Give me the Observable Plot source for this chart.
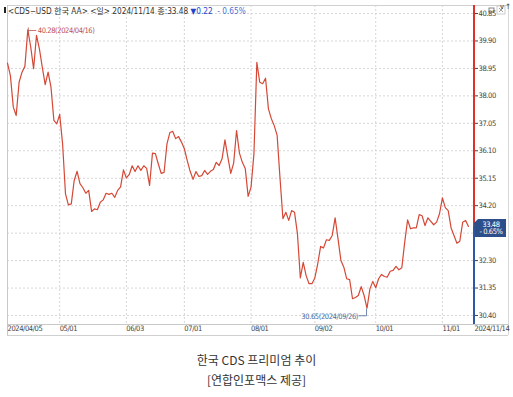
<!DOCTYPE html>
<html><head><meta charset="utf-8">
<script src="https://cdn.jsdelivr.net/npm/d3@7"></script>
<script src="https://cdn.jsdelivr.net/npm/@observablehq/plot@0.6"></script>
<style>
body{margin:0;background:#fff;}
#chart svg{display:block;}
#chart svg text{letter-spacing:-0.4px;}
#chart svg text.hdr{letter-spacing:0px;}
.cap{font-family:"Noto Sans CJK KR","Noto Sans",sans-serif;font-size:12px;color:#333;text-align:center;line-height:20px;margin-top:10px;width:513px;}
</style></head><body>
<div id="chart"></div>
<div class="cap">한국 CDS 프리미엄 추이<br>[연합인포맥스 제공]</div>
<script>
const dates = [
"04/05","04/08","04/09","04/10","04/11","04/12","04/15","04/16","04/17","04/18",
"04/19","04/22","04/23","04/24","04/25","04/26","04/29","04/30","05/01","05/02",
"05/03","05/06","05/07","05/08","05/09","05/10","05/13","05/14","05/15","05/16",
"05/17","05/20","05/21","05/22","05/23","05/24","05/27","05/28","05/29","05/30",
"05/31","06/03","06/04","06/05","06/06","06/07","06/10","06/11","06/12","06/13",
"06/14","06/17","06/18","06/19","06/20","06/21","06/24","06/25","06/26","06/27",
"06/28","07/01","07/02","07/03","07/04","07/05","07/08","07/09","07/10","07/11",
"07/12","07/15","07/16","07/17","07/18","07/19","07/22","07/23","07/24","07/25",
"07/26","07/29","07/30","07/31","08/01","08/02","08/05","08/06","08/07","08/08",
"08/09","08/12","08/13","08/14","08/15","08/16","08/19","08/20","08/21","08/22",
"08/23","08/26","08/27","08/28","08/29","08/30","09/02","09/03","09/04","09/05",
"09/06","09/09","09/10","09/11","09/12","09/13","09/16","09/17","09/18","09/19",
"09/20","09/23","09/24","09/25","09/26","09/27","09/30","10/01","10/02","10/03",
"10/04","10/07","10/08","10/09","10/10","10/11","10/14","10/15","10/16","10/17",
"10/18","10/21","10/22","10/23","10/24","10/25","10/28","10/29","10/30","10/31",
"11/01","11/04","11/05","11/06","11/07","11/08","11/11","11/12","11/13","11/14"];

const values = [
39.13,38.70,37.61,37.32,38.47,38.82,39.02,40.28,39.70,38.94,
40.09,39.63,38.99,38.39,38.82,38.30,37.15,37.03,37.36,36.34,
34.61,34.23,34.26,35.07,35.39,34.96,34.82,34.63,34.73,34.00,
34.09,34.06,34.32,34.40,34.63,34.59,34.63,34.49,34.73,34.85,
35.44,35.16,35.28,35.58,35.38,35.58,35.42,35.58,35.49,34.90,
36.02,36.00,35.65,35.32,35.35,36.34,36.73,36.77,36.52,36.59,
36.40,36.17,35.76,35.39,35.11,35.38,35.21,35.24,35.42,35.28,
35.39,35.45,35.70,35.59,35.82,36.48,35.88,35.32,35.67,36.80,
36.02,35.70,35.49,34.52,34.84,36.00,39.16,38.47,38.42,38.61,
37.55,37.21,36.97,36.63,35.14,33.75,33.97,33.69,34.03,33.97,
33.23,31.70,32.24,31.78,31.50,31.50,31.70,32.19,32.79,32.74,
33.02,33.00,33.17,33.78,33.05,32.30,32.07,31.67,31.64,30.98,
31.02,31.09,31.40,31.09,30.65,31.32,31.58,31.36,31.67,31.82,
31.75,31.73,31.93,31.96,32.10,31.98,32.05,32.94,33.71,33.40,
33.43,33.43,33.89,33.85,33.51,33.78,33.66,33.54,33.63,33.92,
34.47,34.13,34.03,33.43,33.17,32.90,32.97,33.63,33.69,33.48];

const yTicks = [30.40,31.35,32.30,33.25,34.20,35.15,36.10,37.05,38.00,38.95,39.90,40.85];
const monthTicks = ["05/01","06/03","07/01","08/01","09/02","10/01","11/01"];
const firstLabel = "2024/04/05";
const lastLabel = "2024/11/14";
const maxDate = "04/16", maxText = "40.28(2024/04/16)";
const minDate = "09/26", minText = "30.65(2024/09/26)";
const headerMain = "<CDS\u2212USD 한국 AA> <일> 2024/11/14 종:33.48 ";
const headerChg = "\u25BC0.22";
const headerPct = "  - 0.65%";
const boxValue = "33.48";
const boxPct = "- 0.65%";

const data = dates.map((d, i) => ({i, date: d, v: values[i]}));
const n = dates.length;
const xMax = (n - 1) + 2.07;
const yDomain = [30.088, 41.127];
const lastV = values[n - 1];
const monthData = monthTicks.map(m => ({i: dates.indexOf(m), label: m}));
const edgeData = [{i: 0, label: firstLabel}, {i: xMax, label: lastLabel}];
const maxPt = data[dates.indexOf(maxDate)];
const minPt = data[dates.indexOf(minDate)];

const FONT = '"Liberation Sans Narrow","Arial Narrow","DejaVu Sans Condensed","Noto Sans CJK KR",sans-serif';
const RED = "#d54836", BLUE = "#2f57a6";

const chrome = (index, scales, values, dim) => {
  const g = d3.create("svg:g");
  const L = dim.marginLeft, T = dim.marginTop, R = dim.width - dim.marginRight, B = dim.height - dim.marginBottom;
  const W = dim.width - 5;
  const line = (x1, y1, x2, y2, c) => g.append("line").attr("x1", x1).attr("y1", y1).attr("x2", x2).attr("y2", y2).attr("stroke", c).attr("stroke-width", 1).attr("shape-rendering", "crispEdges");
  line(L, T, W, T, "#d0d0d0");
  line(L, T, L, B + 11, "#c8c8c8");
  line(L, B, W, B, "#c8c8c8");
  line(L, B + 11, W, B + 11, "#d0d0d0");
  line(W, T, W, B + 11, "#d8d8d8");
  const yv = scales.y(lastV);
  g.append("line").attr("x1", R).attr("x2", R).attr("y1", T).attr("y2", yv).attr("stroke", "#e0302a").attr("stroke-width", 2);
  g.append("line").attr("x1", R).attr("x2", R).attr("y1", yv).attr("y2", B).attr("stroke", BLUE).attr("stroke-width", 2);
  g.append("rect").attr("x", R + 15).attr("y", T + 3).attr("width", 5).attr("height", 4).attr("fill", "none").attr("stroke", "#666").attr("stroke-width", 0.8);
  g.append("rect").attr("x", R + 23).attr("y", T + 1).attr("width", 8).attr("height", 8).attr("fill", "#fff").attr("stroke", "#c0c0c0").attr("stroke-width", 0.8);
  g.append("path").attr("d", `M${R+25},${T+3}L${R+29},${T+7}M${R+29},${T+3}L${R+25},${T+7}`).attr("stroke", "#888").attr("stroke-width", 0.8);
  return g.node();
};

const valueBox = (index, scales, values, dim) => {
  const g = d3.create("svg:g");
  const R = dim.width - dim.marginRight;
  const yv = scales.y(lastV);
  g.append("path").attr("d", `M${R},${yv - 3}L${R + 4},${yv - 7}L${R + 32},${yv - 7}L${R + 32},${yv + 11}L${R + 1},${yv + 11}Z`).attr("fill", "#2c4f8c");
  g.append("text").attr("x", R + 17).attr("y", yv - 1.5).attr("text-anchor", "middle").attr("dominant-baseline", "middle").attr("fill", "#fff").attr("font-size", 7.5).text(boxValue);
  g.append("text").attr("x", R + 17).attr("y", yv + 6).attr("text-anchor", "middle").attr("dominant-baseline", "middle").attr("fill", "#fff").attr("font-size", 7.5).text(boxPct);
  return g.node();
};

const header = (index, scales, values, dim) => {
  const g = d3.create("svg:g");
  const T = dim.marginTop;
  g.append("rect").attr("x", 4).attr("y", T + 2).attr("width", 2).attr("height", 6).attr("fill", "#222");
  const t = g.append("text").attr("class", "hdr").attr("x", 8).attr("y", T + 5.5).attr("text-anchor", "start").attr("dominant-baseline", "middle").attr("font-size", 8.2);
  t.append("tspan").attr("fill", "#333").text(headerMain);
  t.append("tspan").attr("fill", "#2244cc").text(headerChg);
  t.append("tspan").attr("fill", "#4a6fd8").text(headerPct);
  return g.node();
};

const leaders = (index, scales, values, dim) => {
  const g = d3.create("svg:g");
  const mx = scales.x(maxPt.i), my = scales.y(maxPt.v);
  g.append("path").attr("d", `M${mx + 1},${my - 2}V${my + 3}M${mx + 1},${my + 1}H${mx + 9}`).attr("stroke", "#c0504d").attr("stroke-width", 0.8).attr("fill", "none");
  const nx = scales.x(minPt.i), ny = scales.y(minPt.v);
  g.append("path").attr("d", `M${nx},${ny + 1}V${ny + 8}H${nx - 8}`).attr("stroke", "#4d6a99").attr("stroke-width", 0.8).attr("fill", "none");
  return g.node();
};

const chart = Plot.plot({
  width: 513,
  height: 340,
  marginTop: 5,
  marginBottom: 16,
  marginLeft: 7,
  marginRight: 39,
  style: {fontFamily: FONT, fontSize: "7.5px", background: "#fff", overflow: "visible"},
  x: {type: "linear", domain: [0, xMax], axis: null},
  y: {domain: yDomain, axis: null},
  marks: [
    Plot.ruleY(yTicks, {stroke: "#d6d6d6", strokeDasharray: "2,2"}),
    Plot.ruleX(monthData, {x: "i", stroke: "#d6d6d6", strokeDasharray: "2,2"}),
    chrome,
    Plot.line(data, {x: "i", y: "v", stroke: RED, strokeWidth: 1.2}),
    Plot.axisY(yTicks, {anchor: "right", tickSize: 3, tickPadding: 1, tickFormat: d => d.toFixed(2), color: "#444", fontSize: 7.5}),
    Plot.text(monthData, {x: "i", text: "label", frameAnchor: "bottom", dy: 6.5, textAnchor: "start", fill: "#444", fontSize: 7.5}),
    Plot.text(edgeData, {x: "i", text: "label", frameAnchor: "bottom", dy: 6.5, textAnchor: "start", fill: "#444", fontSize: 7.5}),
    leaders,
    Plot.text([maxPt], {x: "i", y: "v", text: () => maxText, dx: 10, dy: 1, textAnchor: "start", fill: "#c0504d", fontSize: 7.5}),
    Plot.text([minPt], {x: "i", y: "v", text: () => minText, dx: -9, dy: 8, textAnchor: "end", fill: "#4d6a99", fontSize: 7.5}),
    valueBox,
    header
  ]
});
document.getElementById("chart").appendChild(chart);
</script>
</body></html>
